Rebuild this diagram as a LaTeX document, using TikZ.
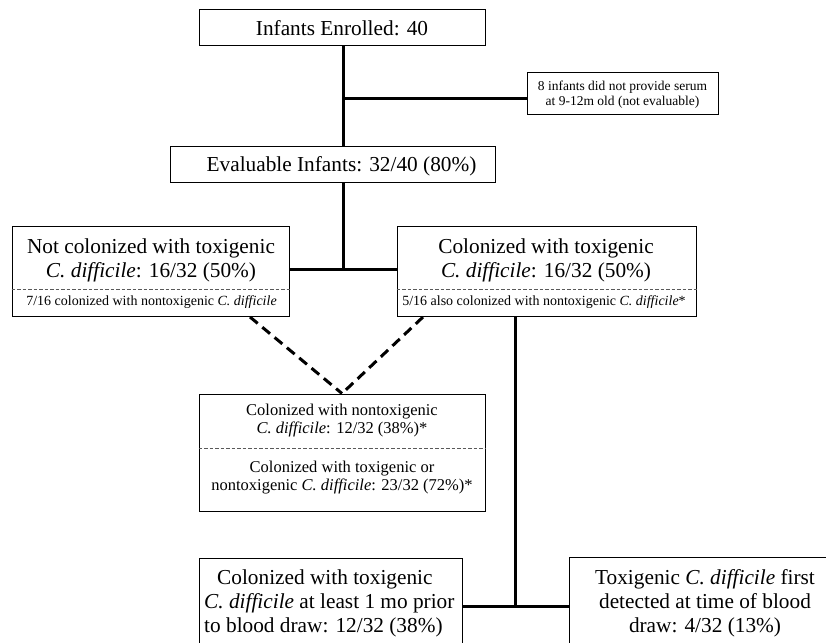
\documentclass[tikz,border=0pt]{standalone}
\usepackage{fontspec}
\setmainfont{Liberation Serif}
\begin{document}
\begin{tikzpicture}[x=1pt,y=-1pt,
  box/.style={draw, line width=1pt, inner sep=0pt},
  big/.style={font=\fontsize{21.3}{24}\selectfont, align=center, inner sep=0pt},
  mid/.style={font=\fontsize{16.5}{18}\selectfont, align=center, inner sep=0pt},
  small/.style={font=\fontsize{14}{16}\selectfont, align=center, inner sep=0pt},
  tiny/.style={font=\fontsize{13.5}{15}\selectfont, align=center, inner sep=0pt},
  conn/.style={line width=3pt},
  dconn/.style={line width=3pt, dash pattern=on 10pt off 6pt},
  divider/.style={line width=0.9pt, gray!70!black, dash pattern=on 3.5pt off 2pt}]
\useasboundingbox (0,0) rectangle (826,642);
\clip (0,0) rectangle (826,642);

% boxes
\node[box, minimum width=286pt, minimum height=36pt] (b1) at (342,28) {};
\node[big, anchor=base] (t1) at (342,36) {Infants Enrolled: 40};

\node[box, minimum width=191pt, minimum height=42pt] (b2) at (622.5,93) {};
\node[tiny] (t2) at (622.5,94.8) {8 infants did not provide serum\\at 9-12m old (not evaluable)};

\node[box, minimum width=325pt, minimum height=36pt] (b3) at (332.5,164) {};
\node[big, anchor=base] (t3) at (341.5,171) {Evaluable Infants: 32/40 (80\%)};

\node[box, minimum width=277pt, minimum height=90pt] (b4) at (150.5,271) {};
\node[big] (t4) at (151,260) {Not colonized with toxigenic\\\textit{C. difficile}: 16/32 (50\%)};
\node[small, anchor=base] (s4) at (151.5,305) {7/16 colonized with nontoxigenic \textit{C. difficile}};

\node[box, minimum width=299pt, minimum height=90pt] (b5) at (546.5,271) {};
\node[big] (t5) at (546,260) {Colonized with toxigenic\\\textit{C. difficile}: 16/32 (50\%)};
\node[small, anchor=base] (s5) at (544,305) {5/16 also colonized with nontoxigenic \textit{C. difficile}*};

\node[box, minimum width=286pt, minimum height=117pt] (b6) at (342,452.5) {};
\node[mid] (t6a) at (342,420.7) {Colonized with nontoxigenic\\\textit{C. difficile}: 12/32 (38\%)*};
\node[mid] (t6b) at (342,477.9) {Colonized with toxigenic or\\nontoxigenic \textit{C. difficile}: 23/32 (72\%)*};

\node[box, minimum width=263pt, minimum height=104pt] (b7) at (330.5,610) {};
\node[big, align=left, anchor=west] (t7) at (204,603) {\hspace*{13pt}Colonized with toxigenic\\\textit{C. difficile} at least 1 mo prior\\to blood draw: 12/32 (38\%)};

\node[box, minimum width=272pt, minimum height=105pt] (b8) at (705,609.5) {};
\node[big] (t8) at (705,603) {Toxigenic \textit{C. difficile} first\\detected at time of blood\\draw: 4/32 (13\%)};

% dividers
\coordinate (y289) at (0,289);
\coordinate (y448) at (0,448);
\draw[divider] (b4.west |- y289) -- (b4.east |- y289);
\draw[divider] (b5.west |- y289) -- (b5.east |- y289);
\draw[divider] (b6.west |- y448) -- (b6.east |- y448);

% connectors
\coordinate (j1) at (343,98);
\coordinate (j2) at (343,269);
\coordinate (j3) at (515,606);
\coordinate (d1) at (250,317);
\coordinate (d2) at (423,317);
\draw[conn] (b1.south -| j1) -- (b3.north -| j1);
\draw[conn] (j1) -- (j1 -| b2.west);
\draw[conn] (b3.south -| j2) -- (j2);
\draw[conn] (j2 -| b4.east) -- (j2 -| b5.west);
\draw[conn] (b5.south -| j3) -- (j3);
\draw[conn] (j3 -| b7.east) -- (j3 -| b8.west);
\draw[dconn] (d1) -- (b6.north);
\draw[dconn] (d2) -- (b6.north);
\end{tikzpicture}
\end{document}
